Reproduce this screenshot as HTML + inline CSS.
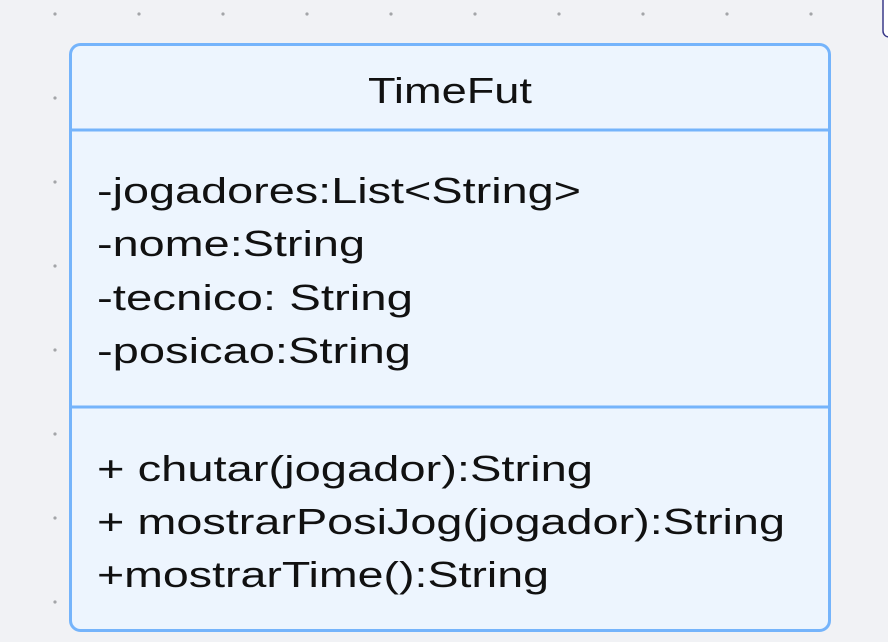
<!DOCTYPE html>
<html><head><style>
html,body{margin:0;padding:0;width:888px;height:642px;overflow:hidden;background:#f1f2f5;}
</style></head><body>
<svg width="888" height="642" xmlns="http://www.w3.org/2000/svg" style="position:absolute;left:0;top:0">
<defs><pattern id="d" x="13" y="-28" width="84" height="84" patternUnits="userSpaceOnUse"><circle cx="42" cy="42" r="1.6" fill="#a3a5a8"/></pattern></defs>
<rect width="888" height="642" fill="#f1f2f5"/>
<rect width="888" height="642" fill="url(#d)"/>
<rect x="883" y="-10" width="20" height="47" rx="6" fill="#fff" stroke="#3a3a8a" stroke-width="1.5"/>
<rect x="70.5" y="44.5" width="759" height="586" rx="10" fill="#edf5fe" stroke="#75b4fb" stroke-width="3"/>
<line x1="70" y1="130" x2="830" y2="130" stroke="#75b4fb" stroke-width="3"/>
<line x1="70" y1="407" x2="830" y2="407" stroke="#75b4fb" stroke-width="3"/>
<g font-family="Liberation Sans, sans-serif" font-size="36" fill="#111">
<text x="450" y="103" text-anchor="middle" textLength="164" lengthAdjust="spacingAndGlyphs">TimeFut</text>
<text x="97" y="203" textLength="484" lengthAdjust="spacingAndGlyphs">-jogadores:List&lt;String&gt;</text>
<text x="97" y="256" textLength="268" lengthAdjust="spacingAndGlyphs">-nome:String</text>
<text x="97" y="310" textLength="316" lengthAdjust="spacingAndGlyphs">-tecnico: String</text>
<text x="97" y="363" textLength="314" lengthAdjust="spacingAndGlyphs">-posicao:String</text>
<text x="97" y="481" textLength="496" lengthAdjust="spacingAndGlyphs">+ chutar(jogador):String</text>
<text x="97" y="534" textLength="688" lengthAdjust="spacingAndGlyphs">+ mostrarPosiJog(jogador):String</text>
<text x="97" y="587" textLength="452" lengthAdjust="spacingAndGlyphs">+mostrarTime():String</text>
</g>
</svg>
</body></html>
